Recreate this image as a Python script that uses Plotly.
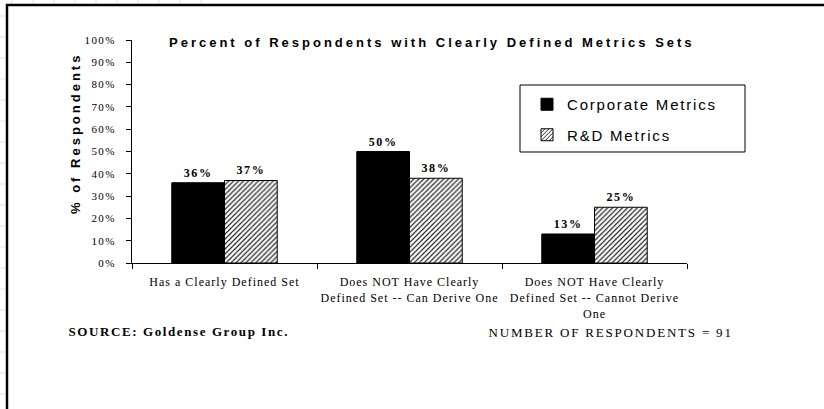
import plotly.graph_objects as go

# ---- data ----
categories = [
    "Has a Clearly Defined Set",
    "Does NOT Have Clearly<br>Defined Set -- Can Derive One",
    "Does NOT Have Clearly<br>Defined Set -- Cannot Derive<br>One",
]
corporate_values = [0.36, 0.50, 0.13]
rd_values = [0.37, 0.38, 0.25]
series_names = ["Corporate Metrics", "R&D Metrics"]
y_tick_values = [0, 0.1, 0.2, 0.3, 0.4, 0.5, 0.6, 0.7, 0.8, 0.9, 1.0]
y_tick_labels = ["0%", "10%", "20%", "30%", "40%", "50%", "60%", "70%", "80%", "90%", "100%"]
title_text = "Percent of Respondents with Clearly Defined Metrics Sets"
y_title_text = "% of Respondents"
source_text = "SOURCE: Goldense Group Inc."
count_text = "NUMBER OF RESPONDENTS = 91"

W, H = 824, 409


def px(x):
    return x / W


def py(y):
    return 1 - y / H


SERIF = "Liberation Serif, Times New Roman, serif"
SANS = "Liberation Sans, Arial, sans-serif"

# letter spacing (px) applied through CSS after drawing
LS_SOURCE = 1.6
LS_COUNT = 1.8

fig = go.Figure()
fig.add_trace(go.Bar(
    x=categories, y=corporate_values, name=series_names[0],
    marker=dict(color="black", line=dict(color="black", width=1)),
    text=[f"{round(v*100)}%" for v in corporate_values],
    textposition="outside", cliponaxis=False,
    textfont=dict(family=SERIF, size=12, color="black", weight="bold"),
    legendgroup="a",
))
fig.add_trace(go.Bar(
    x=categories, y=rd_values, name=series_names[1],
    marker=dict(color="white", line=dict(color="black", width=1),
                pattern=dict(shape="/", fgcolor="#222222", bgcolor="white",
                             size=3.5, solidity=0.35)),
    text=[f"{round(v*100)}%" for v in rd_values],
    textposition="outside", cliponaxis=False,
    textfont=dict(family=SERIF, size=12, color="black", weight="bold"),
    legendgroup="b",
))

shapes = []
# faint spreadsheet grid outside the frame
for i in range(20):
    y = 16 + i * 21
    if y < H:
        shapes.append(dict(type="line", xref="paper", yref="paper",
                           x0=0, x1=px(6), y0=py(y), y1=py(y),
                           line=dict(color="#dfe4ea", width=1)))
for i in range(10):
    x = 12 + i * 21
    shapes.append(dict(type="line", xref="paper", yref="paper",
                       x0=px(x), x1=px(x), y0=py(0), y1=py(4),
                       line=dict(color="#dfe4ea", width=1)))
# frame
shapes.append(dict(type="line", xref="paper", yref="paper",
                   x0=px(6), x1=1, y0=py(5), y1=py(5),
                   line=dict(color="black", width=2.5)))
shapes.append(dict(type="line", xref="paper", yref="paper",
                   x0=px(7), x1=px(7), y0=py(4), y1=0,
                   line=dict(color="black", width=2.5)))
# legend box
shapes.append(dict(type="rect", xref="paper", yref="paper",
                   x0=px(520), x1=px(745), y0=py(85), y1=py(152),
                   line=dict(color="black", width=1), fillcolor="white",
                   layer="below"))

annotations = [
    dict(text=title_text, x=px(432), y=py(43), xref="paper", yref="paper",
         showarrow=False, xanchor="center", yanchor="middle",
         font=dict(family=SANS, size=13, color="black", weight="bold")),
    dict(text=y_title_text, x=px(75), y=py(134), xref="paper", yref="paper",
         showarrow=False, textangle=-90, xanchor="center", yanchor="middle",
         font=dict(family=SANS, size=13, color="black", weight="bold")),
    dict(text=source_text, x=px(66 + len(source_text) * LS_SOURCE / 2),
         y=py(331), xref="paper", yref="paper",
         showarrow=False, xanchor="left", yanchor="middle",
         font=dict(family=SERIF, size=13, color="black", weight="bold")),
    dict(text=count_text, x=px(487 + len(count_text) * LS_COUNT / 2),
         y=py(332), xref="paper", yref="paper",
         showarrow=False, xanchor="left", yanchor="middle",
         font=dict(family=SERIF, size=13, color="black")),
]

fig.update_layout(
    template="none",
    width=W, height=H,
    margin=dict(l=0, r=0, t=0, b=0, pad=0, autoexpand=False),
    paper_bgcolor="white", plot_bgcolor="white",
    barmode="group", bargap=0.43, bargroupgap=0,
    showlegend=True,
    legend=dict(x=px(527), y=py(88), xanchor="left", yanchor="top",
                bgcolor="rgba(0,0,0,0)", borderwidth=0,
                traceorder="grouped", tracegroupgap=8,
                font=dict(family=SANS, size=15, color="black")),
    shapes=shapes,
    annotations=annotations,
    xaxis=dict(domain=[px(132), px(687)], type="category", automargin=False,
               tickson="boundaries", ticks="outside", ticklen=5,
               tickcolor="black", showline=True, linecolor="black",
               linewidth=1, showgrid=False, zeroline=False,
               tickfont=dict(family=SERIF, size=12, color="black"),
               ticklabelstandoff=8),
    yaxis=dict(domain=[py(263), py(40)], range=[0, 1], automargin=False,
               tickvals=y_tick_values, ticktext=y_tick_labels,
               ticks="outside", ticklen=5, tickcolor="black",
               showline=True, linecolor="black", linewidth=1,
               showgrid=False, zeroline=False,
               tickfont=dict(family=SERIF, size=11, color="black"),
               ticklabelstandoff=8),
)

post = """
var s = document.createElement('style');
s.textContent = `
html, body { margin: 0 !important; padding: 0 !important; overflow: hidden; height: 409px; }
.plotly-graph-div { position: absolute !important; top: 0; left: 0; }
.xtick text { letter-spacing: 1px; }
.ytick text { letter-spacing: 1.4px; }
.bartext { letter-spacing: 1.6px; }
.legendtext { letter-spacing: 1.8px; }
.legend .scrollbox, .legend g { clip-path: none !important; }
.annotation[data-index="0"] text { letter-spacing: 3px; }
.annotation[data-index="1"] text { letter-spacing: 3px; }
.annotation[data-index="2"] text { letter-spacing: 1.6px; }
.annotation[data-index="3"] text { letter-spacing: 1.8px; }
`;
document.head.appendChild(s);
"""

fig.write_html("out.html", post_script=post, config={"displayModeBar": False})
